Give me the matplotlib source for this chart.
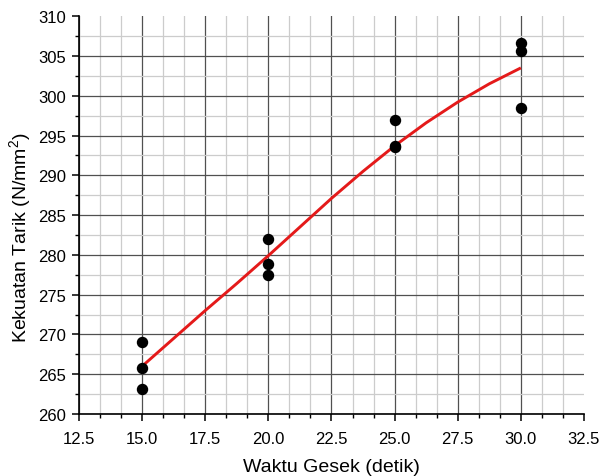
import matplotlib.pyplot as plt
from matplotlib.ticker import MultipleLocator

plt.rcParams['font.family'] = ['Liberation Sans', 'DejaVu Sans']
plt.rcParams['mathtext.fontset'] = 'custom'
plt.rcParams['mathtext.rm'] = 'Liberation Sans'

# measured points
waktu = [15, 15, 15, 20, 20, 20, 25, 25, 25, 30, 30, 30]
kekuatan = [269.1, 265.8, 263.2, 282.0, 278.8, 277.5, 297.0, 293.7, 293.6, 306.6, 305.6, 298.5]

# fitted curve
fit_x = [15, 16.25, 17.5, 18.75, 20, 21.25, 22.5, 23.75, 25, 26.25, 27.5, 28.75, 30]
fit_y = [266.0, 269.5, 273.0, 276.4, 279.9, 283.5, 287.1, 290.5, 293.7, 296.6, 299.2, 301.5, 303.5]

fig = plt.figure(figsize=(6.01, 4.77), dpi=100)
ax = fig.add_axes([0.1314, 0.130, 0.8403, 0.834])

ax.plot(fit_x, fit_y, color='#e41a1a', lw=2.1, zorder=3, solid_capstyle='butt')
ax.scatter(waktu, kekuatan, s=52, color='black', zorder=4)

ax.set_xlim(12.5, 32.5)
ax.set_ylim(260, 310)
ax.xaxis.set_major_locator(MultipleLocator(2.5))
ax.xaxis.set_minor_locator(MultipleLocator(2.5 / 3))
ax.yaxis.set_major_locator(MultipleLocator(5))
ax.yaxis.set_minor_locator(MultipleLocator(2.5))
ax.xaxis.set_major_formatter(lambda v, p: f'{v:.1f}')

ax.grid(which='major', color='#505050', lw=0.9)
ax.grid(which='minor', color='#cccccc', lw=0.9)
ax.set_axisbelow(True)

# no grid line on the top and right edges
for tick, loc in zip(ax.xaxis.get_major_ticks(), ax.get_xticks()):
    if loc >= 32.5:
        tick.gridline.set_visible(False)
for tick, loc in zip(ax.yaxis.get_major_ticks(), ax.get_yticks()):
    if loc >= 310:
        tick.gridline.set_visible(False)

for s in ['top', 'right']:
    ax.spines[s].set_visible(False)
for s in ['left', 'bottom']:
    ax.spines[s].set_linewidth(1.2)

ax.tick_params(which='major', direction='out', length=5, width=1.1, labelsize=12, pad=4)
ax.tick_params(axis='x', which='major', pad=7)
ax.tick_params(which='minor', direction='out', length=3, width=1.0)

ax.set_xlabel('Waktu Gesek (detik)', fontsize=14, labelpad=9)
ax.set_ylabel('Kekuatan Tarik (N/mm$^2$)', fontsize=14, labelpad=3)
ax.yaxis.label.set_y(0.445)

fig.savefig('out.png', dpi=100)
